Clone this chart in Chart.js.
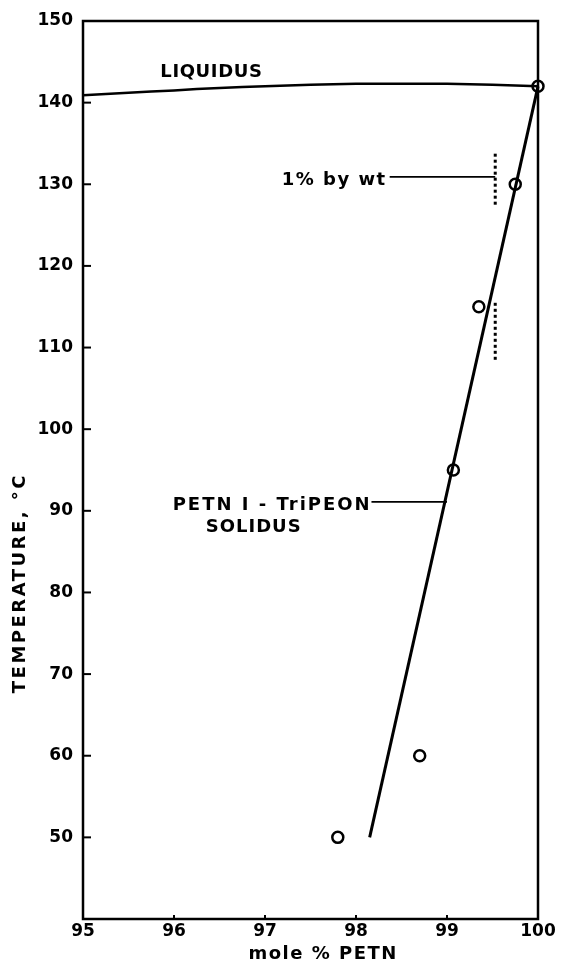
<!DOCTYPE html>
<html>
<head>
<meta charset="utf-8">
<script src="https://cdn.jsdelivr.net/npm/chart.js@4.4.0/dist/chart.umd.min.js"></script>
<style>
html,body{margin:0;padding:0;background:#fff;}
#c{display:block;}
</style>
</head>
<body>
<canvas id="c" width="564" height="965"></canvas>
<script>
// ---- data ----
const pointX = [97.8, 98.7, 99.07, 99.35, 99.75, 100.0];
const pointY = [50, 60, 95, 115, 130, 142];

const solidusX = [98.15, 100.0];
const solidusY = [50, 142];

const liquidusX = [95, 95.5, 96, 96.5, 97, 97.5, 98, 98.5, 99, 99.5, 100];
const liquidusY = [140.9, 141.2, 141.5, 141.8, 142.0, 142.2, 142.3, 142.3, 142.3, 142.2, 142.0];

const wtDotX = [99.53, 99.53];
const wtDotUpperY = [127.5, 134];
const wtDotLowerY = [108.5, 115.5];

const wtLeaderX = [98.37, 99.53];
const wtLeaderY = [130.9, 130.9];
const solLeaderX = [98.17, 99.0];
const solLeaderY = [91.1, 91.1];

const xTicks = [95, 96, 97, 98, 99, 100];
const yTicks = [50, 60, 70, 80, 90, 100, 110, 120, 130, 140, 150];

const labels = [
  {text: 'LIQUIDUS', x: 95.85, y: 143.75, align: 'left', sp: 0.6},
  {text: '1% by wt', x: 98.32, y: 130.5, align: 'right', sp: 1.5},
  {text: 'PETN I - TriPEON', x: 98.15, y: 90.7, align: 'right', sp: 2},
  {text: 'SOLIDUS', x: 96.87, y: 88.0, align: 'center', sp: 1}
];
const xTitle = 'mole % PETN';
const yTitle = 'TEMPERATURE, °C';

const FONT = '"DejaVu Sans", sans-serif';
const pts = (xs, ys) => xs.map((x, i) => ({x, y: ys[i]}));

function spacedText(ctx, text, px, py, align, sp) {
  ctx.letterSpacing = sp + 'px';
  const w = ctx.measureText(text).width - sp;
  let left = px;
  if (align === 'right') left = px - w;
  else if (align === 'center') left = px - w / 2;
  ctx.textAlign = 'left';
  ctx.fillText(text, left, py);
  ctx.letterSpacing = '0px';
}

const framePlugin = {
  id: 'frame',
  afterDatasetsDraw(chart) {
    const {ctx, chartArea: a, scales: {x, y}} = chart;
    ctx.save();
    ctx.strokeStyle = '#000';
    ctx.lineWidth = 2.5;
    ctx.strokeRect(a.left, a.top, a.right - a.left, a.bottom - a.top);
    ctx.lineWidth = 2;
    yTicks.forEach(v => {
      if (v >= 150) return;
      const py = y.getPixelForValue(v);
      ctx.beginPath(); ctx.moveTo(a.left, py); ctx.lineTo(a.left + 8, py); ctx.stroke();
    });
    xTicks.forEach(v => {
      if (v <= 95 || v >= 100) return;
      const px = x.getPixelForValue(v);
      ctx.beginPath(); ctx.moveTo(px, a.bottom); ctx.lineTo(px, a.bottom - 4); ctx.stroke();
    });
    ctx.fillStyle = '#000';
    ctx.font = 'bold 18px ' + FONT;
    ctx.textBaseline = 'middle';
    labels.forEach(l => {
      spacedText(ctx, l.text, x.getPixelForValue(l.x), y.getPixelForValue(l.y), l.align, l.sp);
    });
    // axis titles
    spacedText(ctx, xTitle, x.getPixelForValue(97.63), a.bottom + 35, 'center', 1.5);
    ctx.save();
    ctx.translate(20, y.getPixelForValue(81));
    ctx.rotate(-Math.PI / 2);
    spacedText(ctx, yTitle, 0, 0, 'center', 2.5);
    ctx.restore();
    ctx.restore();
  }
};

const lineDs = (data, width, dash) => ({
  type: 'line', data, showLine: true, borderColor: '#000', borderWidth: width,
  borderDash: dash || [], pointRadius: 0, fill: false, tension: 0, clip: false
});

new Chart(document.getElementById('c'), {
  type: 'scatter',
  data: {
    datasets: [
      Object.assign(lineDs(pts(liquidusX, liquidusY), 2.5), {tension: 0.3}),
      lineDs(pts(solidusX, solidusY), 3),
      lineDs(pts(wtDotX, wtDotUpperY), 3, [3, 3]),
      lineDs(pts(wtDotX, wtDotLowerY), 3, [3, 3]),
      lineDs(pts(wtLeaderX, wtLeaderY), 1.8),
      lineDs(pts(solLeaderX, solLeaderY), 1.8),
      {
        type: 'scatter', data: pts(pointX, pointY), pointRadius: 5.5,
        pointBackgroundColor: '#fff', pointBorderColor: '#000', pointBorderWidth: 2.5,
        clip: false
      }
    ]
  },
  options: {
    responsive: false,
    animation: false,
    layout: {padding: {left: 0, right: 26, top: 21, bottom: 0}},
    plugins: {legend: {display: false}, tooltip: {enabled: false}},
    scales: {
      x: {
        type: 'linear', min: 95, max: 100,
        afterBuildTicks: s => { s.ticks = xTicks.map(v => ({value: v})); },
        afterFit: s => { s.height = 46; },
        grid: {display: false, drawTicks: false},
        border: {display: false},
        ticks: {color: '#000', font: {family: FONT, weight: 'bold', size: 17}, padding: 2, maxRotation: 0},
        title: {display: false}
      },
      y: {
        type: 'linear', min: 40, max: 150,
        afterBuildTicks: s => { s.ticks = yTicks.map(v => ({value: v})); },
        afterFit: s => { s.width = 83; },
        grid: {display: false, drawTicks: false},
        border: {display: false},
        ticks: {color: '#000', font: {family: FONT, weight: 'bold', size: 17}, padding: 10},
        title: {display: false}
      }
    }
  },
  plugins: [framePlugin]
});
</script>
</body>
</html>
